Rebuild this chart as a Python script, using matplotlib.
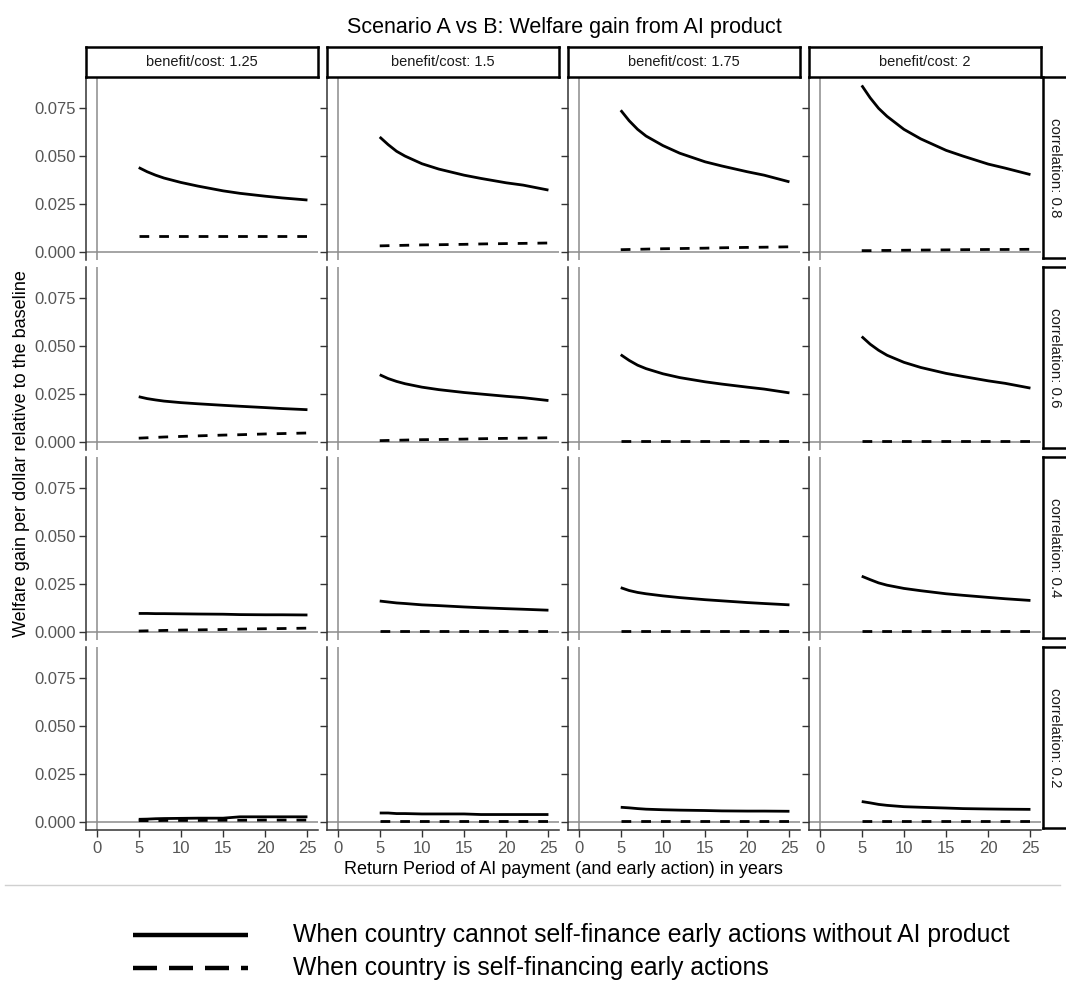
import numpy as np
import matplotlib
matplotlib.use("Agg")
import matplotlib.pyplot as plt
from matplotlib.lines import Line2D

plt.rcParams['font.family'] = ['Liberation Sans', 'DejaVu Sans']

# return periods (years) and panel labels
years = [5, 6, 7, 8, 10, 12, 15, 17, 20, 22, 25]
ratios = ["1.25", "1.5", "1.75", "2"]
correlations = ["0.8", "0.6", "0.4", "0.2"]

# welfare gain, one list per benefit/cost column
# solid: country cannot self-finance early action; dashed: self-financing
solid_08 = [
    [0.0440, 0.0418, 0.0400, 0.0385, 0.0362, 0.0343, 0.0318, 0.0305, 0.0290, 0.0281, 0.0270],
    [0.0600, 0.0560, 0.0525, 0.0500, 0.0460, 0.0432, 0.0400, 0.0383, 0.0360, 0.0348, 0.0322],
    [0.0740, 0.0685, 0.0640, 0.0605, 0.0555, 0.0515, 0.0470, 0.0448, 0.0418, 0.0400, 0.0365],
    [0.0870, 0.0805, 0.0750, 0.0708, 0.0640, 0.0590, 0.0530, 0.0500, 0.0458, 0.0437, 0.0403],
]
dashed_08 = [
    [0.0082, 0.0082, 0.0082, 0.0082, 0.0082, 0.0082, 0.0082, 0.0082, 0.0082, 0.0082, 0.0082],
    [0.0030, 0.0031, 0.0032, 0.0033, 0.0035, 0.0036, 0.0038, 0.0040, 0.0042, 0.0043, 0.0045],
    [0.0010, 0.0011, 0.0012, 0.0013, 0.0015, 0.0016, 0.0018, 0.0020, 0.0022, 0.0023, 0.0025],
    [0.0005, 0.0005, 0.0006, 0.0006, 0.0007, 0.0008, 0.0009, 0.0010, 0.0011, 0.0011, 0.0012],
]
solid_06 = [
    [0.0235, 0.0225, 0.0218, 0.0212, 0.0204, 0.0198, 0.0190, 0.0185, 0.0178, 0.0173, 0.0167],
    [0.0350, 0.0330, 0.0315, 0.0303, 0.0285, 0.0272, 0.0257, 0.0249, 0.0237, 0.0230, 0.0215],
    [0.0455, 0.0425, 0.0400, 0.0382, 0.0355, 0.0335, 0.0313, 0.0301, 0.0285, 0.0275, 0.0255],
    [0.0550, 0.0510, 0.0478, 0.0452, 0.0415, 0.0388, 0.0357, 0.0341, 0.0318, 0.0305, 0.0280],
]
dashed_06 = [
    [0.0018, 0.0020, 0.0022, 0.0024, 0.0027, 0.0030, 0.0034, 0.0036, 0.0040, 0.0042, 0.0045],
    [0.0005, 0.0006, 0.0007, 0.0008, 0.0010, 0.0011, 0.0013, 0.0015, 0.0017, 0.0018, 0.0020],
    [0.0003, 0.0003, 0.0003, 0.0003, 0.0003, 0.0003, 0.0003, 0.0003, 0.0003, 0.0003, 0.0003],
    [0.0002, 0.0002, 0.0002, 0.0002, 0.0002, 0.0002, 0.0002, 0.0002, 0.0002, 0.0002, 0.0002],
]
solid_04 = [
    [0.0095, 0.0095, 0.0094, 0.0094, 0.0093, 0.0092, 0.0091, 0.0089, 0.0088, 0.0088, 0.0087],
    [0.0160, 0.0155, 0.0150, 0.0147, 0.0140, 0.0136, 0.0129, 0.0125, 0.0120, 0.0117, 0.0112],
    [0.0230, 0.0215, 0.0205, 0.0198, 0.0187, 0.0178, 0.0167, 0.0161, 0.0152, 0.0147, 0.0140],
    [0.0290, 0.0272, 0.0255, 0.0243, 0.0226, 0.0214, 0.0198, 0.0190, 0.0179, 0.0172, 0.0163],
]
dashed_04 = [
    [0.0003, 0.0004, 0.0005, 0.0006, 0.0008, 0.0009, 0.0011, 0.0013, 0.0015, 0.0016, 0.0018],
    [0.0002, 0.0002, 0.0002, 0.0002, 0.0002, 0.0002, 0.0002, 0.0002, 0.0002, 0.0002, 0.0002],
    [0.0002, 0.0002, 0.0002, 0.0002, 0.0002, 0.0002, 0.0002, 0.0002, 0.0002, 0.0002, 0.0002],
    [0.0002, 0.0002, 0.0002, 0.0002, 0.0002, 0.0002, 0.0002, 0.0002, 0.0002, 0.0002, 0.0002],
]
solid_02 = [
    [0.0012, 0.0013, 0.0015, 0.0016, 0.0017, 0.0018, 0.0018, 0.0025, 0.0025, 0.0025, 0.0025],
    [0.0045, 0.0045, 0.0042, 0.0042, 0.0040, 0.0040, 0.0040, 0.0037, 0.0037, 0.0037, 0.0037],
    [0.0075, 0.0072, 0.0068, 0.0065, 0.0062, 0.0060, 0.0058, 0.0056, 0.0055, 0.0055, 0.0054],
    [0.0105, 0.0098, 0.0090, 0.0085, 0.0078, 0.0075, 0.0071, 0.0068, 0.0066, 0.0065, 0.0064],
]
dashed_02 = [
    [0.0005, 0.0005, 0.0005, 0.0006, 0.0006, 0.0006, 0.0007, 0.0007, 0.0008, 0.0008, 0.0008],
    [0.0005, 0.0005, 0.0005, 0.0005, 0.0005, 0.0005, 0.0005, 0.0005, 0.0005, 0.0005, 0.0005],
    [0.0005, 0.0005, 0.0005, 0.0005, 0.0005, 0.0005, 0.0005, 0.0005, 0.0005, 0.0005, 0.0005],
    [0.0005, 0.0005, 0.0005, 0.0005, 0.0005, 0.0005, 0.0005, 0.0005, 0.0005, 0.0005, 0.0005],
]
solid_rows = [solid_08, solid_06, solid_04, solid_02]
dashed_rows = [dashed_08, dashed_06, dashed_04, dashed_02]

W, H = 1066, 981
fig = plt.figure(figsize=(W / 100, H / 100), dpi=100)

def box(x0, y0, w, h):
    # pixel box (top-left origin) -> figure fraction rect
    return [x0 / W, 1 - (y0 + h) / H, w / W, h / H]

col_left = [86, 327, 568, 809]
row_top = [77, 267, 457, 647]
pw, ph = 232, 183
tick_grey = "#555555"
line_grey = "#8C8C8C"
dash_style = (3.5, 3.6)

for r in range(4):
    for c in range(4):
        ax = fig.add_axes(box(col_left[c], row_top[r], pw, ph))
        ax.axhline(0, color=line_grey, lw=1.1, zorder=1)
        ax.axvline(0, color=line_grey, lw=1.1, zorder=1)
        ax.plot(years, solid_rows[r][c], color="black", lw=2.0,
                solid_capstyle="butt", zorder=3)
        ax.plot(years, dashed_rows[r][c], color="black", lw=2.0,
                dashes=dash_style, dash_capstyle="butt", zorder=3)
        ax.set_xlim(-1.25, 26.25)
        ax.set_ylim(-0.0044, 0.0914)
        ax.set_yticks([0, 0.025, 0.05, 0.075])
        ax.set_xticks([0, 5, 10, 15, 20, 25])
        for s in ["top", "right"]:
            ax.spines[s].set_visible(False)
        ax.spines["left"].set_linewidth(1.1)
        ax.spines["left"].set_color("#333333")
        ax.tick_params(axis="y", length=5, width=1.0, color="#333333",
                       labelsize=12, labelcolor=tick_grey, pad=2)
        if c == 0:
            ax.set_yticklabels(["0.000", "0.025", "0.050", "0.075"])
        else:
            ax.tick_params(axis="y", labelleft=False)
        if r == 3:
            ax.spines["bottom"].set_linewidth(1.1)
            ax.spines["bottom"].set_color("#333333")
            ax.tick_params(axis="x", length=5, width=1.0, color="#333333",
                           labelsize=12, labelcolor=tick_grey, pad=3)
        else:
            ax.spines["bottom"].set_visible(False)
            ax.tick_params(axis="x", bottom=False, labelbottom=False)

# facet strips along the top
for c in range(4):
    sx = fig.add_axes(box(col_left[c], 47, pw, 30))
    sx.set_xticks([])
    sx.set_yticks([])
    for s in sx.spines.values():
        s.set_linewidth(1.8)
        s.set_color("black")
    sx.text(0.5, 0.5, "benefit/cost: " + ratios[c], ha="center", va="center",
            fontsize=10.5, color="#1A1A1A", transform=sx.transAxes)

# facet strips down the right side
for r in range(4):
    sy = fig.add_axes(box(1043, row_top[r], 40, ph - 2))
    sy.set_xticks([])
    sy.set_yticks([])
    for s in sy.spines.values():
        s.set_linewidth(1.8)
        s.set_color("black")
    sy.text(0.3, 0.5, "correlation: " + correlations[r], ha="center", va="center",
            rotation=-90, fontsize=10.8, color="#1A1A1A", transform=sy.transAxes)

fig.text(564 / W, 1 - 27 / H, "Scenario A vs B: Welfare gain from AI product",
         ha="center", va="center", fontsize=15.5)
fig.text(563 / W, 1 - 870 / H,
         "Return Period of AI payment (and early action) in years",
         ha="center", va="center", fontsize=13)
fig.text(22 / W, 1 - 454 / H,
         "Welfare gain per dollar relative to the baseline",
         ha="center", va="center", rotation=90, fontsize=13)

# separator and legend below the grid
fig.add_artist(Line2D([5 / W, 1060 / W], [1 - 885 / H, 1 - 885 / H],
                      color="#D0D0D0", lw=1.0))
fig.add_artist(Line2D([133 / W, 248 / W], [1 - 935 / H, 1 - 935 / H],
                      color="black", lw=3.2, solid_capstyle="butt"))
fig.add_artist(Line2D([133 / W, 248 / W], [1 - 968 / H, 1 - 968 / H],
                      color="black", lw=3.2, dashes=(5.4, 2.7),
                      dash_capstyle="butt"))
fig.text(293 / W, 1 - 935 / H,
         "When country cannot self-finance early actions without AI product",
         ha="left", va="center", fontsize=17.8)
fig.text(293 / W, 1 - 968 / H,
         "When country is self-financing early actions",
         ha="left", va="center", fontsize=17.8)

fig.savefig("out.png", dpi=100)
